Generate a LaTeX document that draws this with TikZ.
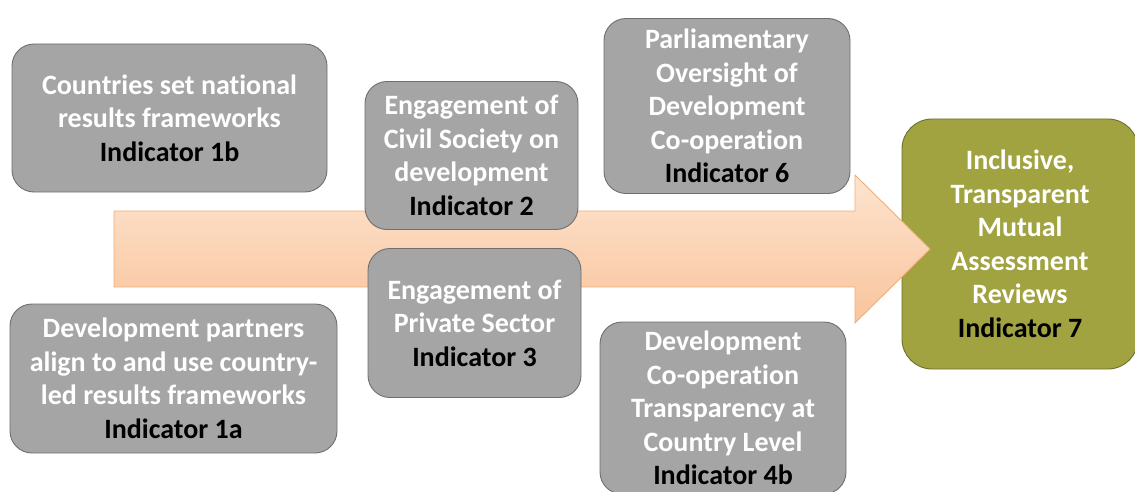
\documentclass[tikz,border=0pt]{standalone}
\usepackage{fontspec}
\setmainfont{Carlito}[Ligatures=NoCommon]
\definecolor{boxgray}{HTML}{A5A5A5}
\definecolor{boxedge}{HTML}{6F6F6F}
\definecolor{olivebox}{HTML}{A0A33F}
\definecolor{oliveedge}{HTML}{6E7030}
\definecolor{arrowtop}{HTML}{FDE4CF}
\definecolor{arrowbot}{HTML}{F9C49C}
\definecolor{arrowedge}{HTML}{F2AE78}
\newcommand{\ind}[1]{{\color{black}#1}}
\tikzset{
  gbox/.style={draw=boxedge, line width=0.9pt, fill=boxgray, rounded corners=22pt,
    align=center, text=white, font=\bfseries\fontsize{28}{33.5}\selectfont,
    inner sep=0pt},
  obox/.style={gbox, draw=oliveedge, fill=olivebox, rounded corners=30pt},
  flowarrow/.style={draw=arrowedge, line width=0.9pt, top color=arrowtop, bottom color=arrowbot},
}
\begin{document}
\begin{tikzpicture}[x=1pt, y=-1pt]
\useasboundingbox (0,0) rectangle (1135,492);
% target box
\node[obox, minimum width=236pt, minimum height=250pt] (i7) at (1020,244)
  {Inclusive,\\Transparent\\Mutual\\Assessment\\Reviews\\\ind{Indicator 7}};
% flow arrow
\draw[flowarrow] (114,211) -- (855,211) -- (855,175) -- (930,249) -- (855,323) -- (855,287) -- (114,287) -- cycle;
% indicator boxes
\node[gbox, minimum width=315pt, minimum height=148pt] (i1b) at (169.5,118)
  {Countries set national\\results frameworks\\\ind{Indicator 1b}};
\node[gbox, minimum width=213pt, minimum height=148pt] (i2) at (471.5,155.5)
  {Engagement of\\Civil Society on\\development\\\ind{Indicator 2}};
\node[gbox, minimum width=246pt, minimum height=175pt] (i6) at (727,106)
  {Parliamentary\\Oversight of\\Development\\Co-operation\\\ind{Indicator 6}};
\node[gbox, minimum width=213pt, minimum height=149pt] (i3) at (474.5,323)
  {Engagement of\\Private Sector\\\ind{Indicator 3}};
\node[gbox, minimum width=327pt, minimum height=149pt] (i1a) at (173.5,378.5)
  {Development partners\\align to and use country-\\led results frameworks\\\ind{Indicator 1a}};
\node[gbox, minimum width=246pt, minimum height=172pt] (i4b) at (723,408)
  {Development\\Co-operation\\Transparency at\\Country Level\\\ind{Indicator 4b}};
\end{tikzpicture}
\end{document}
